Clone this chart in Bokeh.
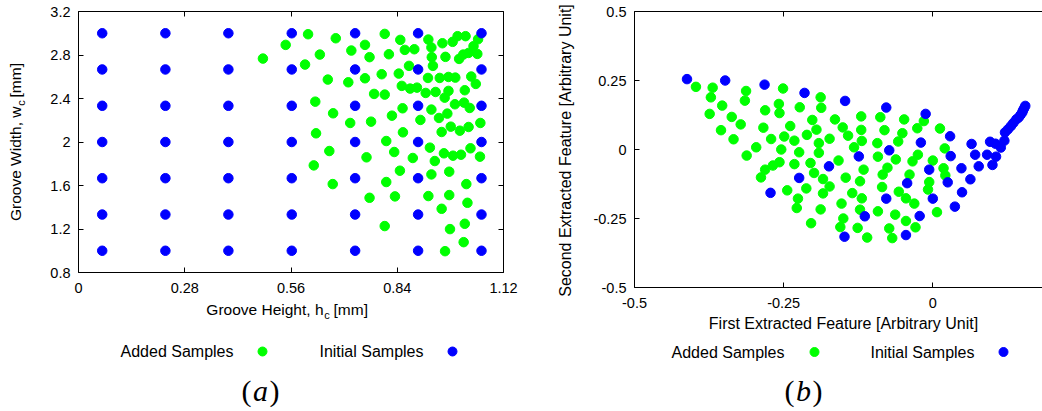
from math import pi
from bokeh.plotting import figure
from bokeh.models import Range1d, LinearAxis, FixedTicker
from bokeh.core.properties import value
from bokeh.layouts import row
from bokeh.embed import file_html
from bokeh.resources import INLINE

# ---------------- data : panel (a) design space ----------------
init_h_levels = [0.0625, 0.229, 0.395, 0.562, 0.729, 0.895, 1.062]
init_w_levels = [1.0, 1.333, 1.667, 2.0, 2.333, 2.667, 3.0]

added_h = [0.486, 0.546, 0.605, 0.597, 0.636, 0.678, 0.657, 0.624, 0.671, 0.626,
           0.661, 0.620, 0.670, 0.711, 0.719, 0.755, 0.767, 0.755, 0.716, 0.771,
           0.759, 0.767, 0.779, 0.807, 0.799, 0.818, 0.807, 0.811, 0.826, 0.832,
           0.811, 0.807, 0.834, 0.847, 0.848, 0.860, 0.844, 0.852, 0.854, 0.855,
           0.871, 0.874, 0.885, 0.892, 0.901, 0.881, 0.922, 0.930, 0.931, 0.934,
           0.921, 0.915, 0.930, 0.926, 0.930, 0.922, 0.939, 0.941, 0.950, 0.952,
           0.957, 0.959, 0.967, 0.957, 0.963, 0.972, 0.975, 0.975, 0.965, 0.977,
           0.977, 0.979, 0.966, 0.986, 0.981, 0.987, 0.993, 0.992, 0.999, 1.003,
           1.005, 1.008, 1.014, 1.016, 1.015, 1.018, 1.020, 1.018, 1.022, 1.025,
           1.028, 1.028, 1.031, 1.033, 1.035, 1.041, 1.047, 1.051, 1.053, 1.059,
           1.058]
added_w = [2.767, 2.893, 2.991, 2.712, 2.804, 2.954, 2.574, 2.371, 2.264, 2.080,
           1.917, 1.785, 1.613, 2.549, 2.841, 2.893, 2.780, 2.586, 2.175, 2.187,
           1.859, 1.487, 2.442, 2.994, 2.623, 2.807, 2.436, 2.009, 2.242, 1.908,
           1.632, 1.227, 1.500, 1.736, 2.939, 2.847, 2.629, 2.516, 2.310, 2.089,
           2.700, 2.491, 2.853, 2.500, 2.203, 1.853, 2.942, 2.869, 2.780, 2.700,
           2.589, 2.451, 2.298, 1.948, 1.702, 1.503, 1.825, 2.460, 2.221, 2.589,
           1.386, 2.908, 2.783, 2.092, 1.896, 2.261, 2.598, 2.470, 2.408, 1.727,
           1.512, 1.199, 0.996, 2.921, 2.141, 1.874, 2.592, 2.347, 2.973, 2.764,
           2.104, 1.883, 2.804, 2.362, 1.079, 1.248, 2.973, 2.476, 1.613, 1.441,
           2.819, 2.138, 2.313, 1.942, 2.602, 2.881, 2.534, 2.810, 2.945, 2.175,
           1.865]

# ---------------- data : panel (b) feature space ----------------
added_f1 = [-0.397, -0.369, -0.372, -0.353, -0.374, -0.337, -0.355, -0.322, -0.334, -0.313,
            -0.315, -0.296, -0.312, -0.281, -0.284, -0.271, -0.251, -0.258, -0.257, -0.239,
            -0.249, -0.254, -0.232, -0.223, -0.202, -0.195, -0.211, -0.188, -0.187, -0.191,
            -0.173, -0.224, -0.191, -0.257, -0.268, -0.281, -0.288, -0.232, -0.205, -0.199,
            -0.184, -0.173, -0.212, -0.244, -0.184, -0.226, -0.228, -0.188, -0.204, -0.164,
            -0.151, -0.142, -0.158, -0.146, -0.132, -0.120, -0.120, -0.119, -0.093, -0.092,
            -0.116, -0.122, -0.135, -0.119, -0.153, -0.122, -0.150, -0.155, -0.126, -0.110,
            -0.092, -0.085, -0.084, -0.076, -0.088, -0.081, -0.058, -0.051, -0.048, -0.062,
            -0.039, -0.034, -0.025, -0.026, -0.015, -0.057, -0.045, -0.031, -0.063, -0.045,
            -0.029, -0.073, -0.068, -0.006, -0.008, 0.000, 0.007, 0.012, 0.020, 0.018,
            0.021]
added_f2 = [0.227, 0.224, 0.189, 0.159, 0.129, 0.118, 0.070, 0.091, 0.037, 0.212,
            0.177, 0.008, -0.022, 0.142, 0.079, 0.038, 0.221, 0.165, 0.132, 0.085,
            0.047, 0.000, 0.032, 0.153, 0.107, 0.072, 0.053, 0.189, 0.151, 0.023,
            0.039, -0.010, -0.012, -0.046, -0.058, -0.073, -0.101, -0.053, -0.049, -0.085,
            -0.107, -0.134, -0.141, -0.148, -0.159, -0.178, -0.212, -0.217, -0.267, 0.109,
            0.080, 0.050, -0.040, -0.102, 0.008, 0.120, 0.071, 0.031, 0.023, -0.026,
            -0.073, -0.115, -0.158, -0.177, -0.196, -0.218, -0.250, -0.281, -0.284, -0.319,
            -0.224, -0.136, -0.091, -0.066, 0.117, 0.070, 0.029, 0.059, 0.109, -0.036,
            -0.091, -0.043, -0.019, 0.077, 0.103, -0.153, -0.177, -0.196, -0.236, -0.259,
            -0.282, -0.286, -0.321, -0.118, -0.145, -0.040, -0.227, 0.076, 0.004, -0.068,
            -0.094]

init_f1 = [-0.412, -0.348, -0.282, -0.215, -0.147, -0.078, -0.012, 0.029, 0.065, 0.096,
           -0.073, -0.020, -0.124, -0.174, -0.224, -0.272, -0.043, -0.006, 0.030, 0.071,
           0.091, 0.106, 0.100, 0.077, 0.048, 0.025, 0.063, 0.049, 0.000, -0.078,
           0.037, -0.022, -0.114, -0.148, -0.045, 0.105, 0.114, 0.120, 0.121, 0.131,
           0.140, 0.147, 0.151, 0.155, 0.126, 0.135, 0.144, 0.150, 0.153]
init_f2 = [0.255, 0.250, 0.235, 0.205, 0.176, 0.152, 0.129, 0.048, 0.020, 0.028,
           -0.003, 0.025, -0.025, -0.061, -0.103, -0.157, -0.122, -0.073, -0.024, -0.019,
           -0.019, -0.026, -0.056, -0.061, -0.068, -0.119, -0.108, -0.155, -0.178, -0.178,
           -0.207, -0.241, -0.242, -0.316, -0.310, 0.021, 0.007, 0.032, 0.062, 0.085,
           0.109, 0.125, 0.141, 0.158, 0.073, 0.096, 0.116, 0.134, 0.149]

# ---------------- ticks / texts ----------------
a_xticks = [0, 0.28, 0.56, 0.84, 1.12]
a_xtick_labels = ["0", "0.28", "0.56", "0.84", "1.12"]
a_yticks = [0.8, 1.2, 1.6, 2, 2.4, 2.8, 3.2]
a_ytick_labels = ["0.8", "1.2", "1.6", "2", "2.4", "2.8", "3.2"]
b_xticks = [-0.5, -0.25, 0]
b_xtick_labels = ["-0.5", "-0.25", "0"]
b_yticks = [-0.5, -0.25, 0, 0.25, 0.5]
b_ytick_labels = ["-0.5", "-0.25", "0", "0.25", "0.5"]

a_xlabel = ("Groove Height, h", "c", "[mm]")
a_ylabel = ("Groove Width, w", "c", "[mm]")
b_xlabel = "First Extracted Feature [Arbitrary Unit]"
b_ylabel = "Second Extracted Feature [Arbitrary Unit]"
legend_names = ["Added Samples", "Initial Samples"]

GREEN = "#00ff00"
BLUE = "#0000ff"
FONT = "Liberation Sans"
SERIF = "Liberation Serif"

init_h = [h for h in init_h_levels for w in init_w_levels]
init_w = [w for h in init_h_levels for w in init_w_levels]

H = 410


def setup_axis(ax, ticks, labels, loc, bounds, show, standoff=8):
    ax.fixed_location = loc
    ax.bounds = bounds
    ax.ticker = FixedTicker(ticks=ticks)
    ax.major_label_overrides = {t: l for t, l in zip(ticks, labels)}
    ax.minor_tick_line_color = None
    ax.major_tick_in = 5
    ax.major_tick_out = 0
    ax.major_tick_line_color = "black"
    ax.axis_line_color = "black"
    ax.major_label_text_font = FONT
    ax.major_label_text_font_size = "14.5px"
    ax.major_label_standoff = standoff
    ax.major_label_text_color = "black" if show else None


def make_fig(width, xr, yr):
    p = figure(width=width, height=H, x_range=xr, y_range=yr, title=None,
               output_backend="svg", toolbar_location=None, min_border=0)
    p.outline_line_color = None
    p.grid.visible = False
    p.background_fill_color = "white"
    p.border_fill_color = "white"
    return p


def add_text(p, x, y, text, size, angle=0.0, align="center", font=FONT,
             style="normal", color="black"):
    p.text(x=[x], y=[y], text=[text], angle=angle, text_align=align,
           text_baseline="middle", text_font=value(font),
           text_font_size=value(size), text_font_style=style, text_color=color)


def add_panel_tag(p, fx, fy, cx, cy, letter):
    # LaTeX-like "(a)": upright parentheses, italic letter
    add_text(p, fx(cx - 14), fy(cy), "(", "30px", font=SERIF)
    add_text(p, fx(cx), fy(cy), letter, "30px", font=SERIF, style="italic")
    add_text(p, fx(cx + 14), fy(cy), ")", "30px", font=SERIF)


# ---------------- panel (a) ----------------
W1 = 530
A_X0, A_X1, A_Y0, A_Y1 = 78, 503, 272, 11          # box edges on the page (px)
APX = 1.12 / (A_X1 - A_X0)
APY = 2.4 / (A_Y0 - A_Y1)
p1 = make_fig(W1, Range1d(-A_X0 * APX, 1.12 + (W1 - A_X1) * APX),
              Range1d(0.8 - (H - A_Y0) * APY, 3.2 + A_Y1 * APY))


def ax_(sx):
    return (sx - A_X0) * APX


def ay_(sy):
    return 0.8 + (A_Y0 - sy) * APY


setup_axis(p1.xaxis[0], a_xticks, a_xtick_labels, 0.8, (0, 1.12), True, 10)
setup_axis(p1.yaxis[0], a_yticks, a_ytick_labels, 0, (0.8, 3.2), True, 8)
top1 = LinearAxis()
p1.add_layout(top1, "above")
setup_axis(top1, a_xticks, a_xtick_labels, 3.2, (0, 1.12), False)
right1 = LinearAxis()
p1.add_layout(right1, "right")
setup_axis(right1, a_yticks, a_ytick_labels, 1.12, (0.8, 3.2), False)

p1.scatter(added_h, added_w, size=9.5, fill_color=GREEN, line_color=GREEN)
p1.scatter(init_h, init_w, size=9.5, fill_color=BLUE, line_color=BLUE)

# axis titles with subscript c
add_text(p1, ax_(323), ay_(309), a_xlabel[0], "15.5px", align="right")
add_text(p1, ax_(326.5), ay_(314), a_xlabel[1], "11px")
add_text(p1, ax_(333), ay_(309), a_xlabel[2], "15.5px", align="left")

add_text(p1, ax_(15), ay_(106), a_ylabel[0], "15.5px", angle=pi / 2, align="right")
add_text(p1, ax_(20), ay_(102.5), a_ylabel[1], "11px", angle=pi / 2)
add_text(p1, ax_(15), ay_(97), a_ylabel[2], "15.5px", angle=pi / 2, align="left")

# legend (text then marker, gnuplot style)
add_text(p1, ax_(233), ay_(351), legend_names[0], "16px", align="right")
add_text(p1, ax_(423), ay_(351), legend_names[1], "16px", align="right")
p1.scatter([ax_(262)], [ay_(351)], size=9, fill_color=GREEN, line_color=GREEN)
p1.scatter([ax_(452)], [ay_(351)], size=9, fill_color=BLUE, line_color=BLUE)

add_panel_tag(p1, ax_, ay_, 260, 390, "a")

# ---------------- panel (b) ----------------
B_OFF = W1
W2 = 1042 - W1
B_X0, B_XZERO, B_Y0, B_Y1 = 634, 932.3, 287, 11
BPX = 0.5 / (B_XZERO - B_X0)
BPY = 1.0 / (B_Y0 - B_Y1)
B_XEND = -0.5 + (B_OFF + W2 - B_X0) * BPX
p2 = make_fig(W2, Range1d(-0.5 - (B_X0 - B_OFF) * BPX, B_XEND),
              Range1d(-0.5 - (H - B_Y0) * BPY, 0.5 + B_Y1 * BPY))


def bx_(sx):
    return -0.5 + (sx - B_X0) * BPX


def by_(sy):
    return -0.5 + (B_Y0 - sy) * BPY


setup_axis(p2.xaxis[0], b_xticks, b_xtick_labels, -0.5, (-0.5, B_XEND), True, 10)
setup_axis(p2.yaxis[0], b_yticks, b_ytick_labels, -0.5, (-0.5, 0.5), True, 8)
top2 = LinearAxis()
p2.add_layout(top2, "above")
setup_axis(top2, b_xticks, b_xtick_labels, 0.5, (-0.5, B_XEND), False)

p2.scatter(added_f1, added_f2, size=9.5, fill_color=GREEN, line_color=GREEN)
p2.scatter(init_f1, init_f2, size=9.5, fill_color=BLUE, line_color=BLUE)

add_text(p2, bx_(843), by_(323), b_xlabel, "16px")
add_text(p2, bx_(565), by_(150), b_ylabel, "16px", angle=pi / 2)

add_text(p2, bx_(784), by_(351.5), legend_names[0], "16px", align="right")
add_text(p2, bx_(974), by_(351.5), legend_names[1], "16px", align="right")
p2.scatter([bx_(814)], [by_(351.5)], size=9, fill_color=GREEN, line_color=GREEN)
p2.scatter([bx_(1003)], [by_(351.5)], size=9, fill_color=BLUE, line_color=BLUE)

add_panel_tag(p2, bx_, by_, 803, 390, "b")

layout = row(p1, p2)
open("out.html", "w").write(file_html(layout, INLINE))
